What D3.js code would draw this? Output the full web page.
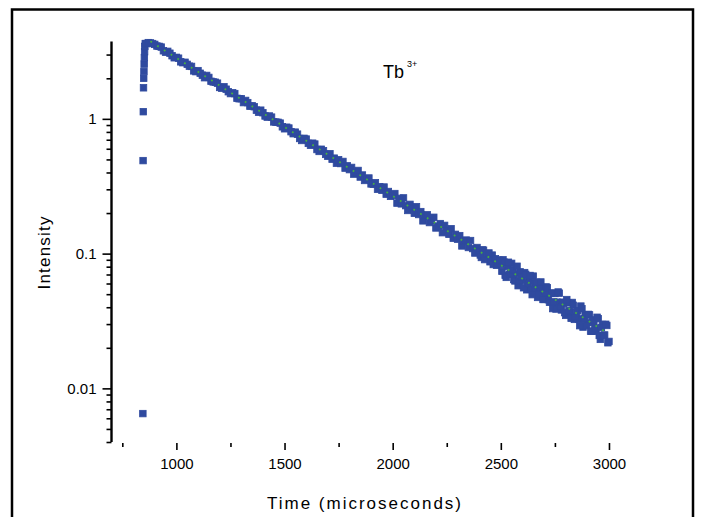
<!DOCTYPE html>
<html>
<head>
<meta charset="utf-8">
<script src="https://cdn.jsdelivr.net/npm/d3@7"></script>
<style>
  html, body { margin: 0; padding: 0; background: #fff; }
  svg { display: block; }
  text { font-family: "Liberation Sans", Arial, sans-serif; fill: #000; }
</style>
</head>
<body>
<svg id="chart" width="701" height="517"></svg>
<script>
// ---- data ----
const riseTimes  = [845, 846, 847, 848, 849, 850, 851, 852, 853, 854, 856];
const riseValues = [0.0065, 0.49, 1.13, 1.7, 2.0, 2.25, 2.55, 2.85, 3.15, 3.45, 3.62];

const earlyTimes = [860, 870, 880, 890, 900, 920, 940, 960, 980, 1000, 1020, 1040, 1060, 1080, 1100,
  1120, 1140, 1160, 1180, 1200, 1220, 1240, 1260, 1280, 1300, 1320, 1340, 1360, 1380, 1400,
  1420, 1440, 1460, 1480, 1500, 1520, 1540, 1560, 1580, 1600, 1620, 1640, 1660, 1680, 1700];
const earlyValues = [3.62, 3.68, 3.66, 3.62, 3.57, 3.45, 3.20, 3.17, 2.94, 2.86, 2.65, 2.63, 2.46, 2.27, 2.28,
  2.11, 2.10, 1.90, 1.87, 1.71, 1.73, 1.59, 1.56, 1.42, 1.41, 1.37, 1.24, 1.23, 1.12, 1.11,
  1.03, 1.03, 0.946, 0.930, 0.844, 0.855, 0.776, 0.770, 0.691, 0.708, 0.636, 0.650, 0.573, 0.580, 0.527];

// in-between readings of the early decay, every 20 microseconds, 910 .. 1690
const earlyMidStart = 910, earlyMidStep = 20;
const earlyMidValues = [
  3.47, 3.41, 3.12, 3.07, 2.84, 2.82, 2.61, 2.54, 2.45, 2.24,
  2.18, 2.02, 2.03, 1.88, 1.84, 1.69, 1.66, 1.54, 1.54, 1.41,
  1.32, 1.32, 1.25, 1.16, 1.16, 1.05, 1.05, 0.949, 0.943, 0.873,
  0.867, 0.803, 0.797, 0.715, 0.717, 0.658, 0.660, 0.592, 0.595, 0.545
];

// later part sampled every 10 microseconds, 1710 .. 3000
const lateStart = 1710, lateStep = 10;
const lateValues = [
  0.551, 0.502, 0.511, 0.469, 0.497, 0.466, 0.483, 0.431, 0.448, 0.420,
  0.436, 0.389, 0.400, 0.414, 0.370, 0.383, 0.349, 0.359, 0.364, 0.329,
  0.327, 0.336, 0.300, 0.314, 0.295, 0.312, 0.276, 0.289, 0.266, 0.270,
  0.279, 0.237, 0.257, 0.234, 0.259, 0.227, 0.209, 0.232, 0.218, 0.199,
  0.223, 0.195, 0.205, 0.175, 0.191, 0.194, 0.170, 0.175, 0.186, 0.155,
  0.160, 0.167, 0.143, 0.162, 0.148, 0.139, 0.153, 0.130, 0.139, 0.128,
  0.136, 0.114, 0.124, 0.126, 0.111, 0.125, 0.109, 0.101, 0.111, 0.104,
  0.0936, 0.106, 0.0941, 0.0975, 0.0870, 0.0975, 0.0873, 0.0819, 0.0893, 0.0830,
  0.0899, 0.0690, 0.0804, 0.0703, 0.0847, 0.0642, 0.0711, 0.0578, 0.0732, 0.0630,
  0.0723, 0.0539, 0.0629, 0.0544, 0.0681, 0.0535, 0.0473, 0.0580, 0.0525, 0.0457,
  0.0566, 0.0455, 0.0507, 0.0391, 0.0506, 0.0436, 0.0509, 0.0382, 0.0427, 0.0348,
  0.0432, 0.0367, 0.0434, 0.0325, 0.0364, 0.0327, 0.0408, 0.0285, 0.0351, 0.0307,
  0.0351, 0.0265, 0.0310, 0.0265, 0.0329, 0.0231, 0.0298, 0.0249, 0.0293, 0.0223
];

// in-between readings of the noisy tail, every 10 microseconds, 2405 .. 2995
const tailStart = 2405, tailStep = 10;
const tailValues = [
  0.0977, 0.1065, 0.0903, 0.0997, 0.1011, 0.0887, 0.0830, 0.0915, 0.0843, 0.0890,
  0.0739, 0.0865, 0.0666, 0.0863, 0.0710, 0.0757, 0.0627, 0.0806, 0.0625, 0.0670,
  0.0558, 0.0702, 0.0600, 0.0688, 0.0496, 0.0604, 0.0612, 0.0500, 0.0616, 0.0457,
  0.0512, 0.0559, 0.0435, 0.0510, 0.0438, 0.0388, 0.0519, 0.0404, 0.0436, 0.0365,
  0.0456, 0.0379, 0.0331, 0.0414, 0.0339, 0.0377, 0.0292, 0.0390, 0.0328, 0.0292,
  0.0354, 0.0266, 0.0322, 0.0280, 0.0337, 0.0247, 0.0283, 0.0247, 0.0299, 0.0218
];

// single-exponential fit (straight on log axis)
const fitTimes  = [880, 3000];
const fitValues = [3.76, 0.0253];

const xTickMajor = [1000, 1500, 2000, 2500, 3000];
const xTickMinor = [750, 1250, 1750, 2250, 2750];
const yTickMajor = [1, 0.1, 0.01];
const yTickLabels = ["1", "0.1", "0.01"];

const titleMain = "Tb";
const titleSup = "3+";
const xTitle = "Time (microseconds)";
const yTitle = "Intensity";

// ---- build ----
const points = [];
riseTimes.forEach((t, i) => points.push([t, riseValues[i]]));
earlyTimes.forEach((t, i) => points.push([t, earlyValues[i]]));
earlyMidValues.forEach((v, i) => points.push([earlyMidStart + i * earlyMidStep, v]));
lateValues.forEach((v, i) => points.push([lateStart + i * lateStep, v]));
tailValues.forEach((v, i) => points.push([tailStart + i * tailStep, v]));

const svg = d3.select("#chart");

// outer frame
svg.append("rect")
  .attr("x", 12).attr("y", 9.5).attr("width", 681).attr("height", 530)
  .attr("fill", "#fff").attr("stroke", "#000").attr("stroke-width", 2.5);

const x = d3.scaleLinear().domain([700, 3100]).range([111.5, 630.6]);
const y = d3.scaleLog().domain([0.004, 3.75]).range([442, 41.5]);

// y axis
const yMinor = [];
[0.001, 0.01, 0.1, 1].forEach(dec => {
  for (let k = 2; k <= 9; k++) {
    const v = dec * k;
    if (v >= 0.004 && v <= 3.75) yMinor.push(v);
  }
});
const yAxisMinor = d3.axisLeft(y).tickValues(yMinor).tickSize(5).tickFormat("");
const yAxisMajor = d3.axisLeft(y).tickValues(yTickMajor).tickSize(9).tickPadding(6)
  .tickFormat((d, i) => yTickLabels[i]);

const gyMin = svg.append("g").attr("transform", "translate(111.5,0)").call(yAxisMinor);
const gy = svg.append("g").attr("transform", "translate(111.5,0)").call(yAxisMajor);
[gyMin, gy].forEach(g => {
  g.selectAll("path.domain").remove();
  g.selectAll("line").attr("stroke", "#000").attr("stroke-width", 1.6);
});
gy.selectAll("text").attr("font-size", 15).attr("font-family", "Liberation Sans, Arial, sans-serif").attr("fill", "#000");
svg.append("line")
  .attr("x1", 111.5).attr("x2", 111.5)
  .attr("y1", y.range()[1]).attr("y2", y.range()[0])
  .attr("stroke", "#000").attr("stroke-width", 2.4);

// x axis (ticks only, no axis line)
const xAxisMajor = d3.axisBottom(x).tickValues(xTickMajor).tickSize(7).tickPadding(8).tickFormat(d3.format("d"));
const xAxisMinor = d3.axisBottom(x).tickValues(xTickMinor).tickSize(4).tickFormat("");
const gxMin = svg.append("g").attr("transform", "translate(0,443)").call(xAxisMinor);
const gx = svg.append("g").attr("transform", "translate(0,443)").call(xAxisMajor);
[gxMin, gx].forEach(g => {
  g.selectAll("path.domain").remove();
  g.selectAll("line").attr("stroke", "#000").attr("stroke-width", 1.6);
});
gx.selectAll("text").attr("font-size", 15).attr("font-family", "Liberation Sans, Arial, sans-serif").attr("fill", "#000");

// data markers
const ms = 6.5;
svg.append("g").selectAll("rect")
  .data(points)
  .join("rect")
  .attr("x", d => x(d[0]) - ms / 2)
  .attr("y", d => y(d[1]) - ms / 2)
  .attr("width", ms).attr("height", ms)
  .attr("fill", "#2f4a9f")
  .attr("stroke", "#2f4a9f")
  .attr("stroke-width", 0.8);

// fit line
const line = d3.line().x(d => x(d[0])).y(d => y(d[1]));
svg.append("path")
  .datum(fitTimes.map((t, i) => [t, fitValues[i]]))
  .attr("d", line)
  .attr("fill", "none")
  .attr("stroke", "#47b041")
  .attr("stroke-width", 1.8)
  .attr("stroke-dasharray", "1.8,6.2");

// titles
svg.append("text")
  .attr("x", 364).attr("y", 509)
  .attr("text-anchor", "middle")
  .attr("font-size", 17)
  .attr("textLength", 194).attr("lengthAdjust", "spacing")
  .text(xTitle);

svg.append("text")
  .attr("transform", "translate(50,253) rotate(-90)")
  .attr("text-anchor", "middle")
  .attr("font-size", 17)
  .attr("textLength", 73).attr("lengthAdjust", "spacing")
  .text(yTitle);

const t = svg.append("text").attr("x", 383).attr("y", 78).attr("font-size", 18);
t.append("tspan").text(titleMain);
t.append("tspan").attr("dx", 3).attr("dy", -11).attr("font-size", 9).text(titleSup);
</script>
</body>
</html>
